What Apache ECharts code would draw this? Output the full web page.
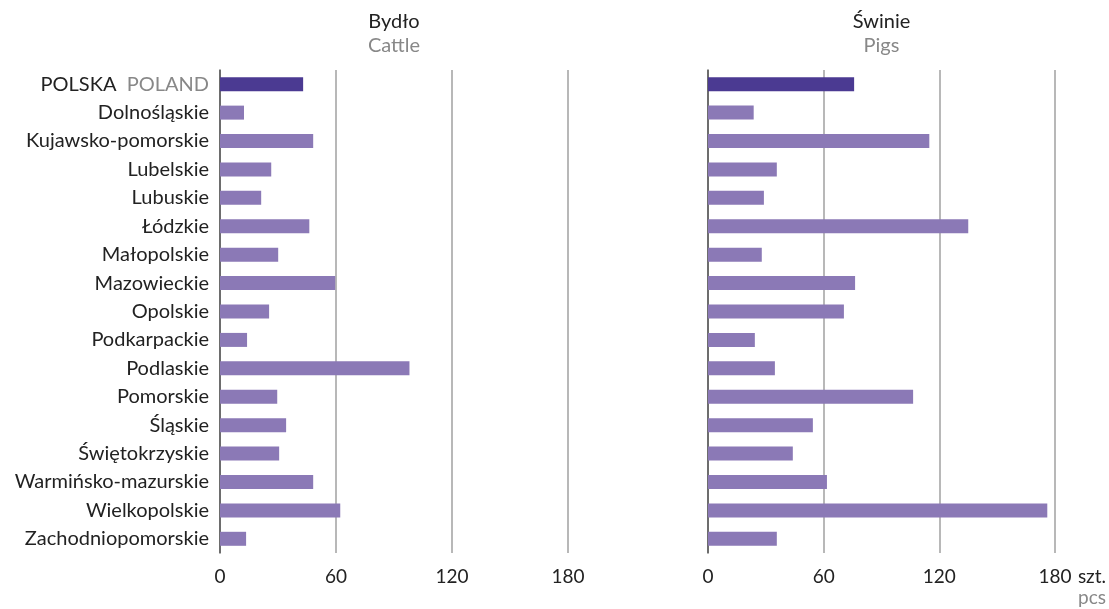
<!DOCTYPE html>
<html>
<head>
<meta charset="utf-8">
<script src="https://cdn.jsdelivr.net/npm/echarts@6/dist/echarts.min.js"></script>
<style>
html,body{margin:0;padding:0;background:#fff;}
#chart{width:1109px;height:609px;}
</style>
</head>
<body>
<div id="chart"></div>
<script>
const categories = ['POLSKA', 'Dolnośląskie', 'Kujawsko-pomorskie', 'Lubelskie', 'Lubuskie', 'Łódzkie', 'Małopolskie', 'Mazowieckie', 'Opolskie', 'Podkarpackie', 'Podlaskie', 'Pomorskie', 'Śląskie', 'Świętokrzyskie', 'Warmińsko-mazurskie', 'Wielkopolskie', 'Zachodniopomorskie'];
const cattle = [43, 12.4, 48.2, 26.5, 21.3, 46.2, 30.1, 59.6, 25.4, 14, 98, 29.6, 34.2, 30.6, 48.2, 62.2, 13.5];
const pigs = [75.8, 23.7, 114.8, 35.7, 29, 135, 27.9, 76.3, 70.5, 24.3, 34.7, 106.4, 54.4, 44, 61.7, 176, 35.7];
const xTicks = [0, 60, 120, 180];
const titles = [['Bydło', 'Cattle'], ['Świnie', 'Pigs']];
const unit = ['szt.', 'pcs'];

const FONT = 'Lato';
const DARK = '#4b3a92';
const LIGHT = '#8b79b6';
const chart = echarts.init(document.getElementById('chart'));

function barData(vals) {
  return vals.map((v, i) => ({ value: v, itemStyle: { color: i === 0 ? DARK : LIGHT } }));
}

function xAxis(idx) {
  return {
    type: 'value', gridIndex: idx, min: xTicks[0], max: xTicks[xTicks.length - 1], interval: 60,
    axisLine: { show: false }, axisTick: { show: false },
    splitLine: { show: true, lineStyle: { color: '#a0a0a0', width: 1.5 } },
    axisLabel: { fontFamily: FONT, fontSize: 19, color: '#222', margin: 14,
      formatter: v => xTicks.includes(v) ? String(v) : '' }
  };
}
function yAxis(idx, showLabels) {
  return {
    type: 'category', gridIndex: idx, data: categories, inverse: true,
    axisLine: { show: true, lineStyle: { color: '#555', width: 1.5 } },
    axisTick: { show: false },
    axisLabel: {
      show: showLabels, fontFamily: FONT, fontSize: 20, color: '#222', margin: 11,
      formatter: v => v === 'POLSKA' ? '{a|POLSKA}  {b|POLAND}' : v,
      rich: { a: { fontFamily: FONT, fontSize: 20, color: '#222' }, b: { fontFamily: FONT, fontSize: 20, color: '#888' } }
    }
  };
}

const gridL = { left: 220, top: 70, width: 348, height: 483 };
const gridR = { left: 708, top: 70, width: 347, height: 483 };

chart.setOption({
  animation: false,
  grid: [gridL, gridR],
  xAxis: [xAxis(0), xAxis(1)],
  yAxis: [yAxis(0, true), yAxis(1, false)],
  series: [
    { type: 'bar', xAxisIndex: 0, yAxisIndex: 0, data: barData(cattle), barWidth: 14 },
    { type: 'bar', xAxisIndex: 1, yAxisIndex: 1, data: barData(pigs), barWidth: 14 }
  ],
  graphic: [
    { type: 'text', x: gridL.left + gridL.width / 2, y: 22, style: { text: titles[0][0], font: '20px ' + FONT, fill: '#222', align: 'center', verticalAlign: 'middle' } },
    { type: 'text', x: gridL.left + gridL.width / 2, y: 46, style: { text: titles[0][1], font: '20px ' + FONT, fill: '#888', align: 'center', verticalAlign: 'middle' } },
    { type: 'text', x: gridR.left + gridR.width / 2, y: 22, style: { text: titles[1][0], font: '20px ' + FONT, fill: '#222', align: 'center', verticalAlign: 'middle' } },
    { type: 'text', x: gridR.left + gridR.width / 2, y: 46, style: { text: titles[1][1], font: '20px ' + FONT, fill: '#888', align: 'center', verticalAlign: 'middle' } },
    { type: 'text', x: 1106, y: 577, style: { text: unit[0], font: '19px ' + FONT, fill: '#222', align: 'right', verticalAlign: 'middle' } },
    { type: 'text', x: 1106, y: 598, style: { text: unit[1], font: '19px ' + FONT, fill: '#888', align: 'right', verticalAlign: 'middle' } }
  ]
});
</script>
</body>
</html>
